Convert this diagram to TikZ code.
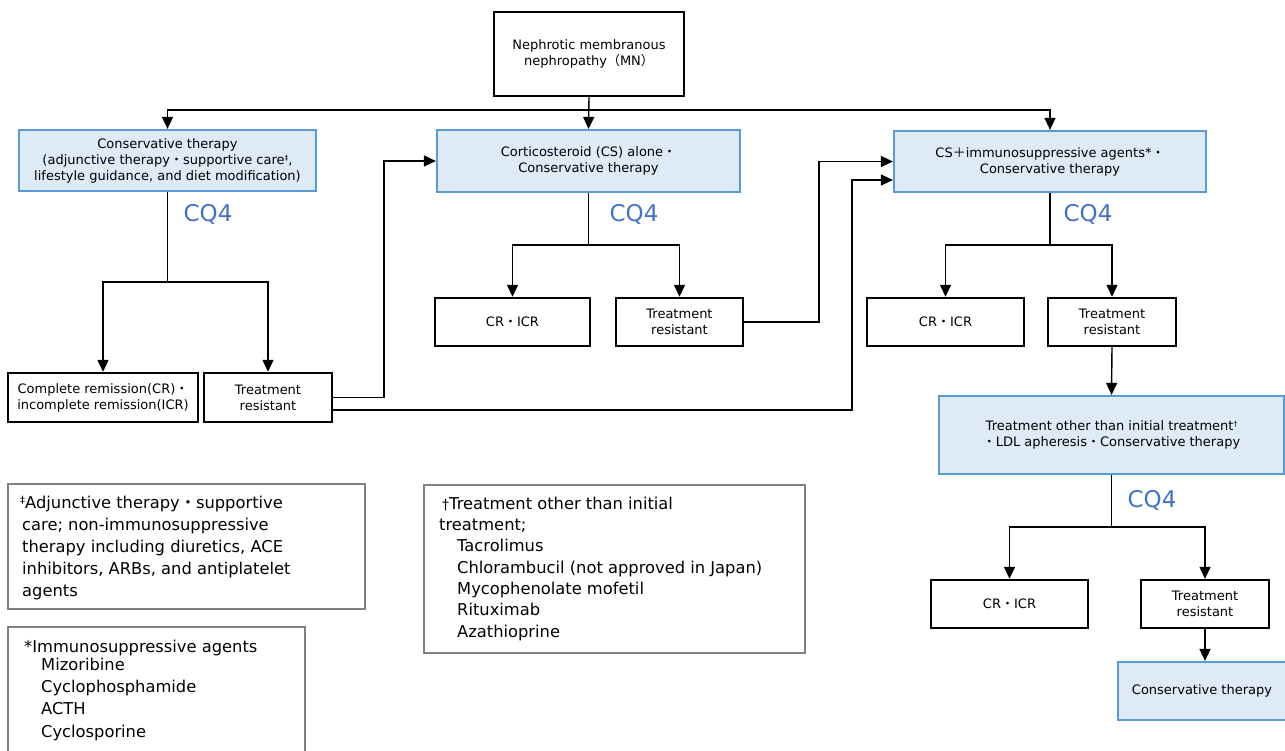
\documentclass[tikz,border=0pt]{standalone}
\usepackage{fontspec}
\setmainfont{DejaVu Sans}
\newfontfamily\cjk{Noto Sans CJK JP}
\usetikzlibrary{arrows.meta}
\newcommand\kd{{\cjk ・}}
\newcommand\supdag[1]{\raisebox{0.55ex}{\fontsize{7.5}{7.5}\selectfont #1}}
\definecolor{bfill}{HTML}{DEEAF6}
\definecolor{bline}{HTML}{5B9BD5}
\definecolor{cqblue}{HTML}{4472C4}
\definecolor{lgray}{HTML}{808080}
\begin{document}
\begin{tikzpicture}[x=1pt,y=-1pt,
  bbox/.style={draw=black,line width=2.4pt,fill=white,align=center,inner sep=0pt,font=\fontsize{13}{16}\selectfont},
  blbox/.style={draw=bline,line width=2.2pt,fill=bfill,align=center,inner sep=0pt,font=\fontsize{13}{16}\selectfont},
  lgbox/.style={draw=lgray,line width=1.3pt,inner sep=0pt},
  lgtext/.style={anchor=base west,inner sep=0pt,font=\fontsize{16.3}{22}\selectfont},
  conn/.style={line width=1.4pt,-{Triangle[length=12pt,width=11pt]}},
  wire/.style={line width=1.4pt},
  cq/.style={text=cqblue,anchor=base,inner sep=0pt,font=\fontsize{23}{23}\selectfont}]
\useasboundingbox (0,0) rectangle (1285,751);

% main boxes
\node[bbox,minimum width=190,minimum height=84] (mn) at (589,54) {Nephrotic membranous\\nephropathy{\cjk（}MN{\cjk）}};
\node[blbox,minimum width=297,minimum height=61] (cons) at (167.5,160.5) {Conservative therapy\\ (adjunctive therapy\kd supportive care\supdag{‡},\\lifestyle guidance, and diet modification)};
\node[blbox,minimum width=303,minimum height=62] (csa) at (588.5,161) {Corticosteroid (CS) alone\kd\\Conservative therapy};
\node[blbox,minimum width=312,minimum height=61] (csi) at (1050,161.5) {CS{\cjk ＋}immunosuppressive agents*\kd\\Conservative therapy};

\node[bbox,minimum width=190,minimum height=49] (crl) at (103,397.5) {Complete remission(CR)\kd\\incomplete remission(ICR)};
\node[bbox,minimum width=128,minimum height=49] (trl) at (268,397.5) {Treatment\\resistant};
\node[bbox,minimum width=155,minimum height=48] (crc) at (512.5,322) {CR\kd ICR};
\node[bbox,minimum width=127,minimum height=48] (trc) at (679.5,322) {Treatment\\resistant};
\node[bbox,minimum width=157,minimum height=48] (crr) at (945.5,322) {CR\kd ICR};
\node[bbox,minimum width=128,minimum height=48] (trr) at (1112,322) {Treatment\\resistant};

\node[blbox,minimum width=345,minimum height=78] (oth) at (1111.5,435) {Treatment other than initial treatment\supdag{†}\\\kd LDL apheresis\kd Conservative therapy};
\node[bbox,minimum width=157,minimum height=48] (crb) at (1009.5,604) {CR\kd ICR};
\node[bbox,minimum width=128,minimum height=48] (trb) at (1205,604) {Treatment\\resistant};
\node[blbox,minimum width=168,minimum height=58] (conb) at (1202,691) {Conservative therapy};

% CQ4 labels
\node[cq] (q1) at (208,222) {CQ4};
\node[cq] (q2) at (634,222) {CQ4};
\node[cq] (q3) at (1088,222) {CQ4};
\node[cq] (q4) at (1152,507) {CQ4};

% connectors
\coordinate (j1) at (589,110);
\draw[conn] (mn.south) -- (csa.north);
\draw[conn] (j1) -| (cons.north);
\draw[conn] (j1) -| (csi.north);

\coordinate (j2) at (167.5,282);
\draw[wire] (cons.south) -- (j2);
\draw[conn] (j2) -| (crl.north);
\draw[conn] (j2) -| (trl.north);

\coordinate (j3) at (588.5,245);
\draw[wire] (csa.south) -- (j3);
\draw[conn] (j3) -| (crc.north);
\draw[conn] (j3) -| (trc.north);

\coordinate (j4) at (1050,245);
\draw[wire] (csi.south) -- (j4);
\draw[conn] (j4) -| (crr.north);
\draw[conn] (j4) -| (trr.north);

\draw[conn] (trr.south) -- (oth.north);

\coordinate (j5) at (1111.5,527);
\draw[wire] (oth.south) -- (j5);
\draw[conn] (j5) -| (crb.north);
\draw[conn] (j5) -| (trb.north);
\draw[conn] (trb.south) -- (trb.south |- conb.north);

% feedback connectors
\coordinate (f1) at (384,161);
\draw[conn] (trl.east) -| (f1) -- (csa.west);
\coordinate (f2) at (852,180);
\draw[conn] ([yshift=-12.5pt]trl.east) -| (f2) -- (f2 -| csi.west);
\coordinate (f3) at (819,161.5);
\draw[conn] (trc.east) -| (f3) -- (csi.west);

% legend boxes
\node[lgbox,minimum width=357,minimum height=125] (lg1) at (186.5,546.5) {};
\node[lgtext] (lg1a) at (20,508) {\raisebox{0.5ex}{\fontsize{10}{10}\selectfont ‡}Adjunctive therapy\kd supportive};
\node[lgtext] (lg1b) at (22,530) {care; non-immunosuppressive};
\node[lgtext] (lg1c) at (22,552) {therapy including diuretics, ACE};
\node[lgtext] (lg1d) at (22,574) {inhibitors, ARBs, and antiplatelet};
\node[lgtext] (lg1e) at (22,596) {agents};

\node[lgbox,minimum width=297,minimum height=146] (lg2) at (156.5,700) {};
\node[lgtext] (lg2a) at (24,652) {*Immunosuppressive agents};
\node[lgtext] (lg2b) at (41,670) {Mizoribine};
\node[lgtext] (lg2c) at (41,692.5) {Cyclophosphamide};
\node[lgtext] (lg2d) at (41,714.5) {ACTH};
\node[lgtext] (lg2e) at (41,737) {Cyclosporine};

\node[lgbox,minimum width=381,minimum height=168] (lg3) at (614.5,569) {};
\node[lgtext] (lg3a) at (442,509) {{\fontsize{14}{14}\selectfont †}Treatment other than initial};
\node[lgtext] (lg3b) at (439,530.5) {treatment;};
\node[lgtext] (lg3c) at (457,551.5) {Tacrolimus};
\node[lgtext] (lg3d) at (457,573) {Chlorambucil (not approved in Japan)};
\node[lgtext] (lg3e) at (457,594) {Mycophenolate mofetil};
\node[lgtext] (lg3f) at (457,615.5) {Rituximab};
\node[lgtext] (lg3g) at (457,637) {Azathioprine};
\end{tikzpicture}
\end{document}
